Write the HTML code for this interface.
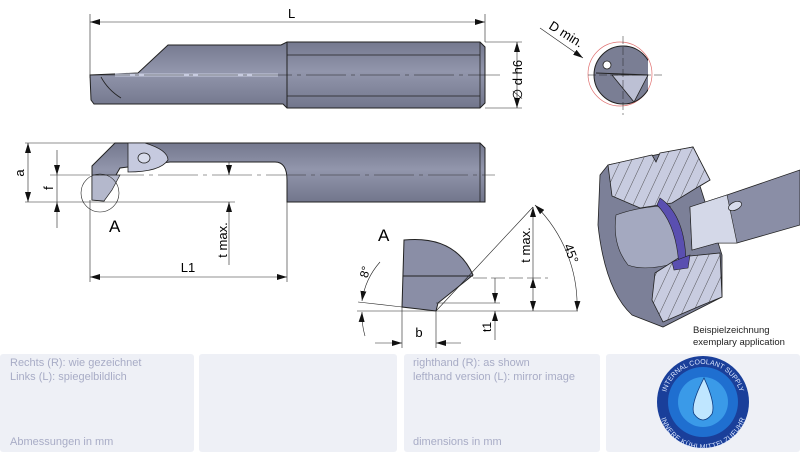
<!DOCTYPE html>
<html><head><meta charset="utf-8"><style>
html,body{margin:0;padding:0;background:#fff;width:800px;height:457px;overflow:hidden}
svg{display:block}
text{font-family:"Liberation Sans",sans-serif}
</style></head><body>
<svg width="800" height="457" viewBox="0 0 800 457" xmlns="http://www.w3.org/2000/svg">
<defs>
<marker id="ar" viewBox="0 0 10 6" refX="10" refY="3" markerWidth="10" markerHeight="6" orient="auto-start-reverse" markerUnits="userSpaceOnUse"><path d="M0,0L10,3L0,6z" fill="#111"/></marker>
<linearGradient id="body" x1="0" y1="0" x2="0" y2="1"><stop offset="0" stop-color="#74788e"/><stop offset="0.45" stop-color="#9296ac"/><stop offset="1" stop-color="#72768c"/></linearGradient>
<pattern id="hatch" width="10" height="10" patternUnits="userSpaceOnUse" patternTransform="rotate(25)"><rect width="10" height="10" fill="#c8cce0"/><line x1="0" y1="0" x2="0" y2="10" stroke="#333" stroke-width="0.8"/></pattern>
<path id="lt" d="M665,402 A38,38 0 0 1 741,402"/>
<path id="lb" d="M663,405 A40,40 0 0 0 743,405"/>
</defs>
<g stroke="#222" stroke-width="0.6" fill="none">
<line x1="90" y1="14" x2="90" y2="78"/><line x1="485" y1="14" x2="485" y2="42"/>
<line x1="90" y1="22" x2="485" y2="22" marker-start="url(#ar)" marker-end="url(#ar)"/>
<line x1="485" y1="42" x2="522" y2="42"/><line x1="485" y1="108" x2="522" y2="108"/>
<line x1="517" y1="42" x2="517" y2="108" marker-start="url(#ar)" marker-end="url(#ar)"/>
</g>
<!-- top tool -->
<path d="M287,42 L480,42 L485,47 L485,103 L480,108 L287,108 L283,104 L94,104 L91,100 L90,75 L138,73 L168,45 L281,45 Z" fill="url(#body)" stroke="#222" stroke-width="1"/>
<line x1="287" y1="42" x2="287" y2="108" stroke="#222" stroke-width="1"/>
<line x1="287" y1="55" x2="480" y2="55" stroke="#222" stroke-width="0.8"/>
<line x1="287" y1="96" x2="480" y2="96" stroke="#222" stroke-width="0.8"/>
<line x1="480" y1="42" x2="480" y2="108" stroke="#222" stroke-width="0.8"/>
<line x1="115" y1="75" x2="278" y2="75" stroke="#c8cce0" stroke-width="3"/>
<path d="M101,77 Q108,90 121,98" stroke="#222" fill="none" stroke-width="0.8"/>
<line x1="90" y1="75" x2="500" y2="75" stroke="#222" stroke-width="0.6" stroke-dasharray="40,5,4,5"/>
<!-- middle tool -->
<path d="M115,143 L480,143 L485,148 L485,202 L287,202 L287,180 Q287,162 275,162 L170,162 L120,168 L112,182 L104,201 L92,200 L92,166 Z" fill="url(#body)" stroke="#222" stroke-width="1"/>
<path d="M128,143 L145,143 Q168,150 168,160 Q160,172 128,172 Z" fill="#c6cadf" stroke="#222" stroke-width="0.8"/>
<path d="M92,175 L120,175 L112,190 L104,201 L92,200 Z" fill="#b4b8cc" stroke="#222" stroke-width="0.7"/>
<ellipse cx="144" cy="158" rx="6" ry="5" fill="#d8dcec" stroke="#222" stroke-width="0.8"/>
<line x1="480" y1="143" x2="480" y2="202" stroke="#222" stroke-width="0.8"/>
<line x1="50" y1="175" x2="495" y2="175" stroke="#333" stroke-width="0.6" stroke-dasharray="40,5,4,5"/>
<g stroke="#222" stroke-width="0.6" fill="none">
<line x1="25" y1="143" x2="115" y2="143"/><line x1="25" y1="202" x2="235" y2="202"/>
<line x1="28" y1="143" x2="28" y2="202" marker-start="url(#ar)" marker-end="url(#ar)"/>
<line x1="57" y1="150" x2="57" y2="175" marker-end="url(#ar)"/>
<line x1="57" y1="202" x2="57" y2="228" marker-start="url(#ar)"/>
<line x1="57" y1="175" x2="57" y2="202"/>
<circle cx="100" cy="193" r="19"/>
<line x1="229" y1="162" x2="229" y2="175" marker-end="url(#ar)"/>
<line x1="229" y1="202" x2="229" y2="265" marker-start="url(#ar)"/>
<line x1="90" y1="200" x2="90" y2="282"/><line x1="287" y1="202" x2="287" y2="282"/>
<line x1="90" y1="277" x2="287" y2="277" marker-start="url(#ar)" marker-end="url(#ar)"/>
</g>
<text x="288" y="18" font-size="13">L</text>
<text x="522" y="80" font-size="13" transform="rotate(-90 522 80)" text-anchor="middle">∅ d h6</text>
<text x="24" y="173" font-size="13" transform="rotate(-90 24 173)" text-anchor="middle">a</text>
<text x="53" y="188" font-size="13" transform="rotate(-90 53 188)" text-anchor="middle">f</text>
<text x="109" y="232" font-size="17">A</text>
<text x="227" y="240" font-size="13" transform="rotate(-90 227 240)" text-anchor="middle">t max.</text>
<text x="188" y="272" font-size="13" text-anchor="middle">L1</text>
<!-- detail A -->
<path d="M404,240 Q455,235 473,275 L438,303 L436,311 L402,307 Z" fill="#8a8ea6" stroke="#222" stroke-width="1"/>
<line x1="403" y1="276" x2="473" y2="276" stroke="#222" stroke-width="1"/>
<g stroke="#222" stroke-width="0.6" fill="none">
<line x1="357" y1="311" x2="578" y2="311"/>
<line x1="436" y1="311" x2="533" y2="207"/>
<line x1="473" y1="278" x2="548" y2="278" stroke-dasharray="14,4"/>
<line x1="436" y1="303" x2="500" y2="303"/>
<line x1="358" y1="302" x2="402" y2="307"/>
<line x1="533" y1="207" x2="533" y2="278" marker-start="url(#ar)"/>
<line x1="533" y1="278" x2="533" y2="311" marker-start="url(#ar)" marker-end="url(#ar)"/>
<line x1="495" y1="278" x2="495" y2="303" marker-end="url(#ar)"/>
<line x1="495" y1="311" x2="495" y2="340" marker-start="url(#ar)"/>
<line x1="402" y1="307" x2="402" y2="348"/><line x1="436" y1="311" x2="436" y2="348"/>
<line x1="375" y1="343" x2="402" y2="343" marker-end="url(#ar)"/>
<line x1="461" y1="343" x2="436" y2="343" marker-end="url(#ar)"/>
<path d="M535,205 A141,141 0 0 1 577,311" marker-start="url(#ar)" marker-end="url(#ar)"/>
<path d="M380,262 A75,75 0 0 0 362,301" marker-end="url(#ar)"/>
<path d="M362,312 A75,75 0 0 0 365,336" marker-start="url(#ar)"/>
</g>
<text x="378" y="241" font-size="17">A</text>
<text x="369" y="273" font-size="12" transform="rotate(-75 369 273)" text-anchor="middle">8°</text>
<text x="419" y="337" font-size="13" text-anchor="middle">b</text>
<text x="491" y="327" font-size="12" transform="rotate(-90 491 327)" text-anchor="middle">t1</text>
<text x="530" y="245" font-size="13" transform="rotate(-90 530 245)" text-anchor="middle">t max.</text>
<text x="567" y="255" font-size="13" transform="rotate(70 567 255)" text-anchor="middle">45°</text>
<!-- end view -->
<circle cx="620" cy="74" r="32" fill="none" stroke="#e07070" stroke-width="0.7"/>
<clipPath id="cv"><rect x="580" y="30" width="68" height="90"/></clipPath>
<circle cx="623" cy="75" r="29" fill="#7a7e94" stroke="#222" stroke-width="1" clip-path="url(#cv)"/>
<path d="M612,75 L648,75 L634,102 Z" fill="#bcc0d4" stroke="#222" stroke-width="0.8"/>
<path d="M596,73 L648,75" stroke="#222" stroke-width="1"/>
<circle cx="607" cy="65" r="4" fill="#fff" stroke="#222" stroke-width="0.8"/>
<g stroke="#222" stroke-width="0.5"><line x1="623" y1="36" x2="623" y2="115" stroke-dasharray="8,3"/><line x1="588" y1="75" x2="662" y2="75" stroke-dasharray="8,3"/></g>
<line x1="540" y1="28" x2="583" y2="58" stroke="#222" stroke-width="0.6" marker-end="url(#ar)"/>
<text x="548" y="28" font-size="13" transform="rotate(32 548 28)">D min.</text>
<!-- 3D application -->
<path d="M600,175 L608,165 L693,147 L710,180 L700,186 L722,255 L722,297 L663,327 L632,315 Q605,290 598,225 Z" fill="#7c8098" stroke="#222" stroke-width="0.8"/>
<path d="M616,215 Q640,206 670,206 L680,262 Q645,272 628,265 Q612,245 616,215Z" fill="#a4a9c0" stroke="#222" stroke-width="0.6"/>
<path d="M608,165 L652,155 L656,162 L660,153 L693,147 L710,180 L698,187 L672,203 L640,208 L612,196 Z" fill="url(#hatch)" stroke="#222" stroke-width="0.8"/>
<path d="M655,273 L680,257 L720,253 L722,297 L700,306 L663,322 L652,300 Z" fill="url(#hatch)" stroke="#222" stroke-width="0.8"/>
<path d="M660,198 Q685,215 686,262 L679,268 Q677,225 657,205 Z" fill="#5a4fb0" stroke="#222" stroke-width="0.6"/>
<path d="M672,262 L690,255 L688,268 L674,270 Z" fill="#5a4fb0" stroke="#222" stroke-width="0.6"/>
<path d="M800,170 L727,195 L690,207 L692,250 L717,243 L737,243 L800,225 Z" fill="#8a8ea6" stroke="#222" stroke-width="0.8"/>
<path d="M690,207 L727,195 L737,243 L717,243 L692,250 Z" fill="#d4d8e8" stroke="#222" stroke-width="0.6"/>
<ellipse cx="735" cy="206" rx="7" ry="4" transform="rotate(-25 735 206)" fill="#d8dcec" stroke="#222" stroke-width="0.7"/>
<text x="693" y="333" font-size="9.5" fill="#222">Beispielzeichnung</text>
<text x="693" y="345" font-size="9.5" fill="#222">exemplary application</text>
<!-- bottom panels -->
<rect x="0" y="354" width="194" height="98" rx="3" fill="#eef0f6"/>
<rect x="199" y="354" width="198" height="98" rx="3" fill="#eef0f6"/>
<rect x="404" y="354" width="196" height="98" rx="3" fill="#eef0f6"/>
<rect x="606" y="354" width="194" height="98" rx="3" fill="#eef0f6"/>
<g font-size="11" fill="#a8acc6">
<text x="10" y="366">Rechts (R): wie gezeichnet</text>
<text x="10" y="380">Links (L): spiegelbildlich</text>
<text x="10" y="445">Abmessungen in mm</text>
<text x="413" y="366">righthand (R): as shown</text>
<text x="413" y="380">lefthand version (L): mirror image</text>
<text x="413" y="445">dimensions in mm</text>
</g>
<circle cx="703" cy="402" r="46" fill="#1a3f9a"/>
<circle cx="703" cy="402" r="35" fill="#1f6fd0"/>
<circle cx="703" cy="402" r="25" fill="#3a9ae8"/>
<path d="M704,378 Q690,405 694,414 Q703,426 712,414 Q716,404 704,378Z" fill="#bfe6ff" stroke="#0c3a80" stroke-width="0.8"/>
<text font-size="7" fill="#dde8ff"><textPath href="#lt" startOffset="50%" text-anchor="middle">INTERNAL COOLANT SUPPLY</textPath></text>
<text font-size="7" fill="#dde8ff"><textPath href="#lb" startOffset="50%" text-anchor="middle" dominant-baseline="hanging">INNERE KÜHLMITTELZUFUHR</textPath></text>
</svg>
</body></html>
